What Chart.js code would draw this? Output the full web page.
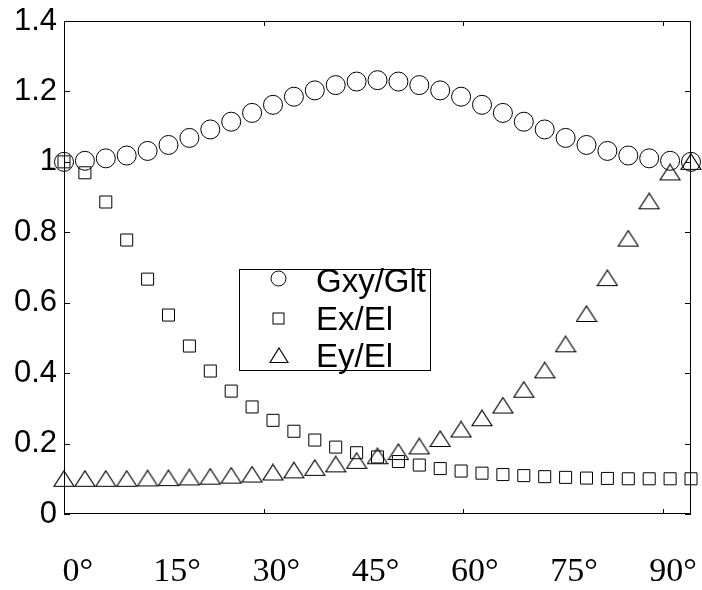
<!DOCTYPE html>
<html>
<head>
<meta charset="utf-8">
<script src="https://cdn.jsdelivr.net/npm/chart.js@4/dist/chart.umd.min.js"></script>
<style>
  html, body { margin: 0; padding: 0; background: #fff; }
  canvas { display: block; }
</style>
</head>
<body>
<canvas id="grafico" width="702" height="590"></canvas>
<script>
// angulos em graus (passo de 3)
var angulos = [0, 3, 6, 9, 12, 15, 18, 21, 24, 27, 30, 33, 36, 39, 42, 45,
               48, 51, 54, 57, 60, 63, 66, 69, 72, 75, 78, 81, 84, 87, 90]
var gxyGlt = [1.000, 1.003, 1.010, 1.018, 1.031, 1.048, 1.068, 1.092, 1.114, 1.139, 1.162,
              1.185, 1.203, 1.218, 1.228, 1.232, 1.228, 1.218, 1.203, 1.185, 1.162,
              1.139, 1.114, 1.092, 1.068, 1.048, 1.031, 1.018, 1.010, 1.003, 1.000]
var exEl = [1.000, 0.969, 0.886, 0.778, 0.667, 0.565, 0.477, 0.406, 0.349, 0.304, 0.266,
            0.235, 0.210, 0.190, 0.174, 0.162, 0.149, 0.139, 0.129, 0.122, 0.116,
            0.112, 0.109, 0.106, 0.104, 0.102, 0.101, 0.100, 0.100, 0.100, 0.100]
var eyEl = [0.100, 0.100, 0.100, 0.100, 0.101, 0.102, 0.104, 0.106, 0.109, 0.112, 0.118,
            0.124, 0.131, 0.141, 0.151, 0.164, 0.176, 0.192, 0.213, 0.240, 0.272,
            0.308, 0.353, 0.408, 0.482, 0.568, 0.670, 0.782, 0.888, 0.970, 1.000]
var rotulos = ["Gxy/Glt", "Ex/El", "Ey/El"]
var ticksGraus = [0, 15, 30, 45, 60, 75, 90]  // rotulos do eixo x
var ticksRad = [0.5, 1.0, 1.5]               // marcas do eixo x (radianos)
var ticksY = [0, 0.2, 0.4, 0.6, 0.8, 1.0, 1.2, 1.4]

function toPontos(valores) {
    return valores.map((v, i) => ({x: angulos[i] * Math.PI / 180, y: v}))
}

// triangulo centrado pela caixa (como no matlab)
function triangulo(w, h) {
    let c = document.createElement("canvas")
    c.width = w + 2
    c.height = h + 2
    let ctx = c.getContext("2d")
    ctx.strokeStyle = "#000"
    ctx.lineWidth = 1.2
    ctx.beginPath()
    ctx.moveTo(c.width / 2, 1)
    ctx.lineTo(c.width - 1, c.height - 1.5)
    ctx.lineTo(1, c.height - 1.5)
    ctx.closePath()
    ctx.stroke()
    return c
}
var triPlot = triangulo(20, 16)
var triLegenda = triangulo(18, 15)

function desenhaMarcador(ctx, i, x, y) {
    ctx.beginPath()
    if (i == 0) {
        ctx.arc(x, y, 7.5, 0, Math.PI * 2)
        ctx.stroke()
    } else if (i == 1) {
        ctx.strokeRect(x - 5.5, y - 5.5, 11, 11)
    } else {
        ctx.drawImage(triLegenda, Math.round(x - triLegenda.width / 2), Math.round(y - triLegenda.height / 2))
    }
}

// moldura, marcas internas e legenda
var molduraPlugin = {
    id: "moldura",
    beforeDatasetsDraw(chart) {
        let ctx = chart.ctx, a = chart.chartArea
        let sx = chart.scales.x, sy = chart.scales.y
        ctx.save()
        ctx.strokeStyle = "#000"
        ctx.lineWidth = 1
        ctx.strokeRect(Math.round(a.left) + 0.5, Math.round(a.top) + 0.5,
                       Math.round(a.right - a.left) - 1, Math.round(a.bottom - a.top) - 1)
        ctx.beginPath()
        for (let t of ticksRad) {
            let px = Math.round(sx.getPixelForValue(t)) + 0.5
            ctx.moveTo(px, a.top); ctx.lineTo(px, a.top + 5)
            ctx.moveTo(px, a.bottom); ctx.lineTo(px, a.bottom - 5)
        }
        for (let t of ticksY) {
            let py = Math.round(sy.getPixelForValue(t)) + 0.5
            ctx.moveTo(a.left, py); ctx.lineTo(a.left + 6, py)
            ctx.moveTo(a.right, py); ctx.lineTo(a.right - 6, py)
        }
        ctx.stroke()
        ctx.restore()
    },
    afterDraw(chart) {
        let ctx = chart.ctx
        ctx.save()
        ctx.fillStyle = "#fff"
        ctx.fillRect(239.5, 269.5, 191, 101)
        ctx.strokeStyle = "#000"
        ctx.lineWidth = 1
        ctx.strokeRect(239.5, 269.5, 191, 101)
        ctx.font = "33px 'Liberation Sans', Arial, sans-serif"
        ctx.fillStyle = "#000"
        ctx.textBaseline = "alphabetic"
        let linhas = [278.5, 318.5, 355]
        let bases = [292, 330, 367]
        chart.data.datasets.forEach((ds, i) => {
            desenhaMarcador(ctx, i, 278.5, linhas[i])
            ctx.fillText(ds.label, 316, bases[i])
        })
        ctx.restore()
    }
}

var estilos = [
    {pointStyle: "circle", pointRadius: 9.5},
    {pointStyle: "rect", pointRadius: 8.5},
    {pointStyle: triPlot, pointRadius: 9}
]

var serie = (label, valores, i) => ({
    label: label,
    data: toPontos(valores),
    showLine: false,
    pointStyle: estilos[i].pointStyle,
    pointRadius: estilos[i].pointRadius,
    pointHoverRadius: estilos[i].pointRadius,
    pointBorderColor: "#000",
    pointBackgroundColor: "rgba(0,0,0,0)",
    pointBorderWidth: 1,
    clip: false
})

new Chart("grafico", {
    type: "scatter",
    data: {
        datasets: [serie(rotulos[0], gxyGlt, 0), serie(rotulos[1], exEl, 1), serie(rotulos[2], eyEl, 2)]
    },
    options: {
        responsive: false,
        devicePixelRatio: 1,
        animation: false,
        events: [],
        layout: {padding: {top: 21, right: 11, left: 0, bottom: 0}},
        plugins: {legend: {display: false}, tooltip: {enabled: false}},
        scales: {
            x: {
                type: "linear", display: false,
                min: 0, max: Math.PI / 2
            },
            x2: {
                type: "linear", position: "bottom",
                min: -2.1, max: 92.7,
                grid: {display: false, drawTicks: false}, border: {display: false},
                afterBuildTicks: scale => { scale.ticks = ticksGraus.map(v => ({value: v})) },
                afterFit: scale => {
                    scale.height = 76
                    scale.paddingLeft = 0
                    scale.paddingRight = 0
                },
                ticks: {
                    autoSkip: false, maxRotation: 0, padding: 38,
                    color: "#000",
                    font: {family: "'Liberation Serif', 'Times New Roman', serif", size: 34},
                    callback: v => v + "°"
                }
            },
            y: {
                type: "linear", min: 0, max: 1.4,
                grid: {display: false, drawTicks: false}, border: {display: false},
                afterBuildTicks: scale => { scale.ticks = ticksY.map(v => ({value: v})) },
                afterFit: scale => {
                    scale.width = 64
                    scale.paddingTop = 0
                    scale.paddingBottom = 0
                },
                ticks: {
                    padding: 7, color: "#000",
                    font: {family: "'Liberation Sans', Arial, sans-serif", size: 31},
                    callback: v => String(+v.toFixed(1))
                }
            }
        }
    },
    plugins: [molduraPlugin]
})
</script>
</body>
</html>
